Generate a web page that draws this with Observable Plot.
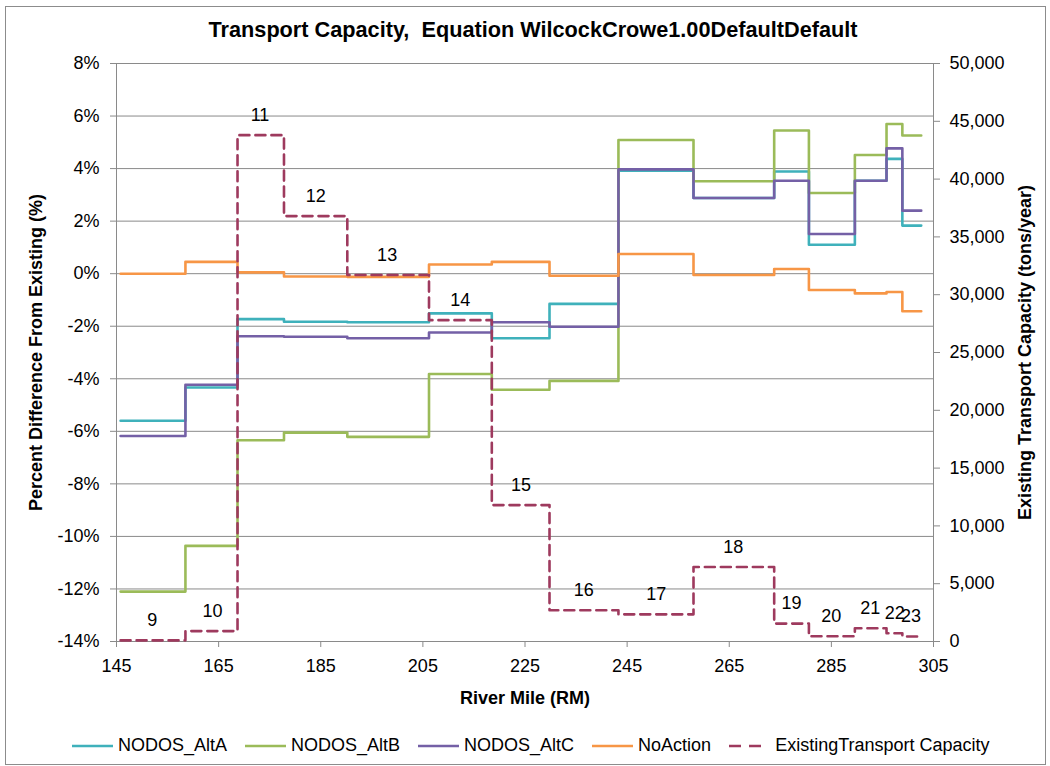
<!DOCTYPE html>
<html>
<head>
<meta charset="utf-8">
<script src="https://cdn.jsdelivr.net/npm/d3@7"></script>
<script src="https://cdn.jsdelivr.net/npm/@observablehq/plot@0.6"></script>
<style>
  body { margin: 0; background: #fff; font-family: "Liberation Sans", Arial, sans-serif; }
  #wrap { position: relative; width: 1050px; height: 766px; overflow: hidden; }
  #frame { position: absolute; left: 5px; top: 6px; width: 1039px; height: 757px; border: 1px solid #8c8c8c; }
  #title { position: absolute; top: 17px; left: 16px; width: 1034px; text-align: center; font-weight: bold; font-size: 21.7px; white-space: pre; }
  #chart { position: absolute; top: 45px; left: 0; }
  #legend { position: absolute; top: 735px; left: 72px; display: flex; align-items: center; font-size: 18px; white-space: pre; }
  .item { display: flex; align-items: center; margin-right: 18px; }
  .item svg { margin-right: 5px; }
</style>
</head>
<body>
<div id="wrap">
  <div id="frame"></div>
  <div id="title">Transport Capacity,  Equation WilcockCrowe1.00DefaultDefault</div>
  <div id="chart"></div>
  <div id="legend"></div>
</div>
<script>
// River mile boundaries of the reaches (15 reaches, 16 boundaries)
const riverMile = [145.8, 158.5, 168.7, 177.8, 190.2, 206.2, 218.5, 229.8, 243.3, 258.0, 273.8, 280.6, 289.6, 295.8, 298.9, 302.6];

// Percent difference from existing (%), one value per reach
const altA     = [-5.60, -4.33, -1.73, -1.83, -1.85, -1.51, -2.46, -1.15, 3.92, 2.88, 3.89, 1.10, 3.54, 4.37, 1.83];
const altB     = [-12.10, -10.36, -6.34, -6.05, -6.21, -3.82, -4.42, -4.08, 5.09, 3.52, 5.45, 3.07, 4.52, 5.70, 5.26];
const altC     = [-6.18, -4.23, -2.38, -2.40, -2.46, -2.24, -1.85, -2.02, 3.97, 2.88, 3.54, 1.51, 3.54, 4.77, 2.40];
const noAction = [0.00, 0.45, 0.05, -0.11, -0.12, 0.35, 0.45, -0.08, 0.75, -0.05, 0.18, -0.62, -0.75, -0.70, -1.43];

// Existing transport capacity (tons/year), one value per reach
const capacity = [100, 900, 43800, 36800, 31700, 27800, 11800, 2700, 2350, 6450, 1550, 450, 1150, 720, 430];

// Reach labels and their river-mile positions
const reachLabels = ["9","10","11","12","13","14","15","16","17","18","19","20","21","22","23"];
const labelRM     = [152, 163.8, 173.1, 184, 198, 212.3, 224.2, 236.5, 250.7, 265.8, 277.2, 285, 292.6, 297.4, 300.6];

// Axis ticks
const xTicks = [145, 165, 185, 205, 225, 245, 265, 285, 305];
const yTicks = [-14, -12, -10, -8, -6, -4, -2, 0, 2, 4, 6, 8];
const capTicks = [0, 5000, 10000, 15000, 20000, 25000, 30000, 35000, 40000, 45000, 50000];

const seriesNames = ["NODOS_AltA", "NODOS_AltB", "NODOS_AltC", "NoAction"];
const seriesColors = ["#3fb1bb", "#9bbb59", "#7460a6", "#f79646"];
const capColor = "#9e3a5e";
const capName = "ExistingTransport Capacity";

// secondary axis mapping onto the primary domain
const yMin = -14, yMax = 8, capMax = 50000;
const capToPct = c => yMin + c * (yMax - yMin) / capMax;
const pctToCap = p => (p - yMin) * capMax / (yMax - yMin);

function stepRows(vals, name) {
  const rows = vals.map((v, i) => ({rm: riverMile[i], v, name}));
  rows.push({rm: riverMile[riverMile.length - 1], v: vals[vals.length - 1], name});
  return rows;
}

const seriesRows = [altA, altB, altC, noAction].map((vals, i) => stepRows(vals, seriesNames[i]));
const capRows = stepRows(capacity.map(capToPct), capName);
const labelRows = reachLabels.map((t, i) => ({t, rm: labelRM[i], y: capToPct(capacity[i])}));

const grid = "#8a8a8a";

const chart = Plot.plot({
  width: 1050,
  height: 680,
  marginLeft: 116,
  marginRight: 117,
  marginTop: 18,
  marginBottom: 84,
  style: {fontFamily: "'Liberation Sans', Arial, sans-serif", fontSize: "18px", color: "#000", background: "transparent"},
  x: {domain: [145, 305]},
  y: {domain: [yMin, yMax]},
  marks: [
    Plot.gridY({ticks: yTicks, stroke: grid, strokeOpacity: 1}),
    Plot.ruleX([145], {stroke: grid}),
    Plot.ruleX([305], {stroke: grid}),
    Plot.axisY({ticks: yTicks, anchor: "left", tickSize: 6, tickPadding: 11, stroke: grid, fill: "#000", label: null, tickFormat: d => d + "%"}),
    Plot.axisY({ticks: capTicks.map(capToPct), anchor: "right", tickSize: 6, tickPadding: 10, stroke: grid, fill: "#000", label: null, tickFormat: d => d3.format(",")(Math.round(pctToCap(d)))}),
    Plot.axisX({ticks: xTicks, tickSize: 6, tickPadding: 12, stroke: grid, fill: "#000", label: null, tickFormat: d => String(d)}),
    ...seriesRows.map((rows, i) => Plot.line(rows, {x: "rm", y: "v", curve: "step-after", stroke: seriesColors[i], strokeWidth: 2.6})),
    Plot.line(capRows, {x: "rm", y: "v", curve: "step-after", stroke: capColor, strokeWidth: 2.6, strokeDasharray: "10,6"}),
    Plot.text(labelRows, {x: "rm", y: "y", text: "t", dy: -20, fontSize: 18, fill: "#000"}),
    Plot.text(["River Mile (RM)"], {frameAnchor: "bottom", dy: 62, fontWeight: "bold", fontSize: 18, fill: "#000"}),
    Plot.text(["Percent Difference From Existing (%)"], {frameAnchor: "left", dx: -80, rotate: -90, textAnchor: "middle", fontWeight: "bold", fontSize: 18, fill: "#000"}),
    Plot.text(["Existing Transport Capacity (tons/year)"], {frameAnchor: "right", dx: 92, rotate: -90, textAnchor: "middle", fontWeight: "bold", fontSize: 18, fill: "#000"})
  ]
});
document.getElementById("chart").appendChild(chart);

// Legend
const legend = document.getElementById("legend");
const items = seriesNames.map((n, i) => ({name: n, color: seriesColors[i], dash: false}));
items.push({name: capName, color: capColor, dash: true});
for (const it of items) {
  const div = document.createElement("div");
  div.className = "item";
  const line = it.dash
    ? `<line x1="0" x2="33" y1="5" y2="5" stroke="${it.color}" stroke-width="2.6" stroke-dasharray="12,8"/>`
    : `<line x1="0" x2="41" y1="5" y2="5" stroke="${it.color}" stroke-width="2.6"/>`;
  div.innerHTML = `<svg width="41" height="10">${line}</svg><span>${it.name}</span>`;
  legend.appendChild(div);
}
</script>
</body>
</html>
